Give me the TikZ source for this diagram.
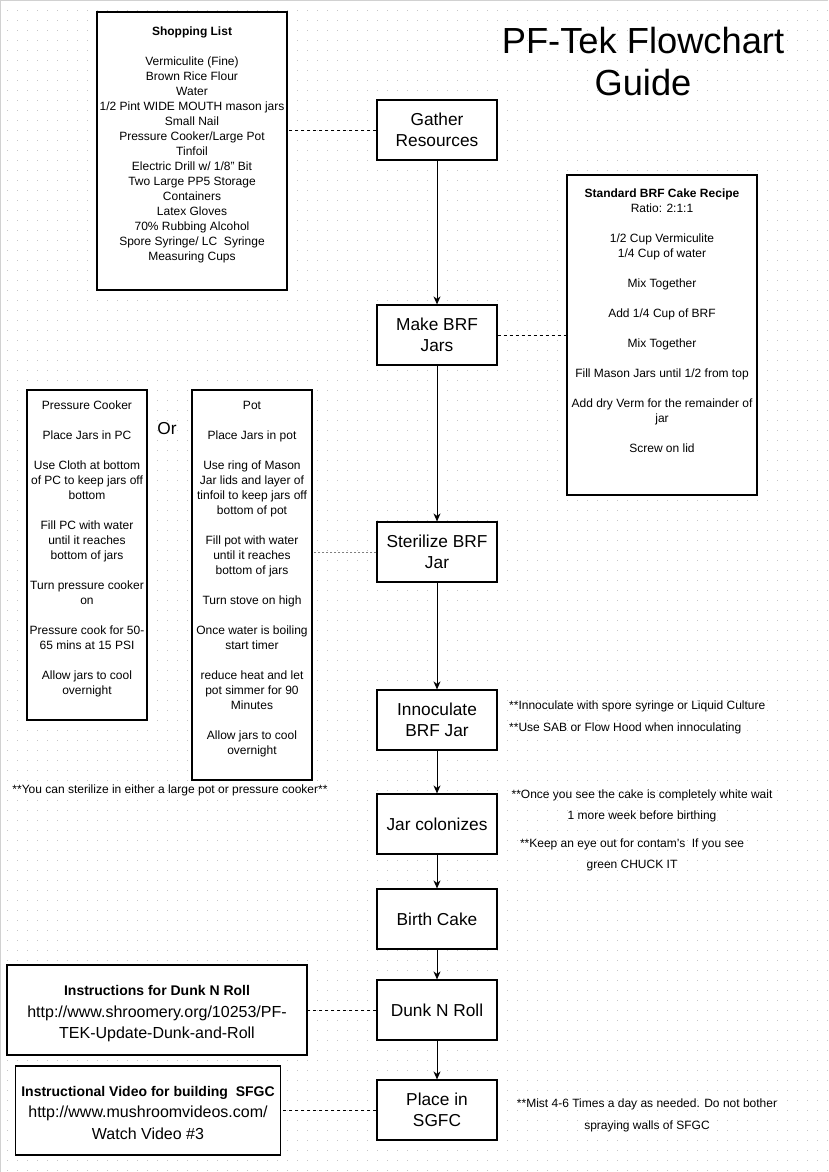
\documentclass[tikz,border=0pt]{standalone}
\usepackage{fontspec}
\setmainfont{Liberation Sans}
\usetikzlibrary{arrows.meta, positioning}

\definecolor{gridgray}{gray}{0.78}
\definecolor{framegray}{gray}{0.82}

\tikzset{
  stepbox/.style={draw, line width=1.2pt, fill=white, minimum width=120pt, minimum height=60pt,
    align=center, inner sep=2pt, font=\fontsize{17.3}{21}\selectfont},
  sidebox/.style={draw, line width=1.2pt, fill=white, inner sep=0pt},
  sidetext/.style={align=center, inner sep=0pt, anchor=north, font=\fontsize{12}{15}\selectfont},
  infotext/.style={align=center, inner sep=0pt, font=\fontsize{16}{21.5}\selectfont},
  notetext/.style={inner sep=0pt, font=\fontsize{12}{21.5}\selectfont},
  dashlink/.style={dashed, line width=1pt},
  flowarrow/.style={-{Stealth[length=8pt, width=7pt, inset=2.5pt]}, line width=1pt},
}

\begin{document}
\begin{tikzpicture}[x=1pt, y=-1pt, node distance=100pt, on grid]
  \useasboundingbox (0,0) rectangle (828,1172);

  % dotted background grid
  \foreach \gy in {10.5,20.5,...,1170.5}
    \draw[gridgray, line width=1pt, dash pattern=on 1pt off 9pt] (7,\gy) -- (828,\gy);
  \draw[framegray, line width=1pt] (0.5,1172) -- (0.5,0.5) -- (828,0.5);

  % title
  \node[align=center, font=\fontsize{36.3}{42}\selectfont] (title) at (643,62) {PF-Tek Flowchart\\Guide};

  % main steps
  \node[stepbox] (gather) at (437,130) {Gather\\Resources};
  \node[stepbox] (makejars) [below=205pt of gather] {Make BRF\\Jars};
  \node[stepbox] (sterilize) [below=217pt of makejars] {Sterilize BRF\\Jar};
  \node[stepbox] (innoculate) [below=168pt of sterilize] {Innoculate\\BRF Jar};
  \node[stepbox] (colonize) [below=104pt of innoculate] {Jar colonizes};
  \node[stepbox] (birth) [below=95pt of colonize] {Birth Cake};
  \node[stepbox] (dunk) [below=91pt of birth] {Dunk N Roll};
  \node[stepbox] (sgfc) [below=100pt of dunk] {Place in\\SGFC};

  \path[flowarrow] (gather) edge (makejars)
                   (makejars) edge (sterilize)
                   (sterilize) edge (innoculate)
                   (innoculate) edge (colonize)
                   (colonize) edge (birth)
                   (birth) edge (dunk)
                   (dunk) edge (sgfc);

  % shopping list
  \node[sidebox, minimum width=190pt, minimum height=278pt] (shoplist) at (192,151) {};
  \node[sidetext] (shoptext) at ([yshift=-15.5pt]shoplist.north) {{\bfseries Shopping List}\\[15pt]
    Vermiculite (Fine)\\Brown Rice Flour\\Water\\1/2 Pint WIDE MOUTH mason jars\\Small Nail\\
    Pressure Cooker/Large Pot\\Tinfoil\\Electric Drill w/ 1/8" Bit\\Two Large PP5 Storage\\
    Containers\\Latex Gloves\\70\% Rubbing Alcohol\\Spore Syringe/ LC~~Syringe\\Measuring Cups};

  % recipe
  \node[sidebox, minimum width=190pt, minimum height=320pt] (recipe) at (662,335) {};
  \node[sidetext] (recipetext) at ([yshift=-14.5pt]recipe.north) {{\bfseries Standard BRF Cake Recipe}\\
    Ratio: 2:1:1\\[15pt]1/2 Cup Vermiculite\\1/4 Cup of water\\[15pt]Mix Together\\[15pt]
    Add 1/4 Cup of BRF\\[15pt]Mix Together\\[15pt]Fill Mason Jars until 1/2 from top\\[15pt]
    Add dry Verm for the remainder of\\jar\\[15pt]Screw on lid};

  % sterilizing options
  \node[sidebox, minimum width=120pt, minimum height=330pt] (pcbox) at (87,555) {};
  \node[sidetext] (pctext) at ([yshift=-11.5pt]pcbox.north) {Pressure Cooker\\[15pt]
    Place Jars in PC\\[15pt]Use Cloth at bottom\\of PC to keep jars off\\bottom\\[15pt]
    Fill PC with water\\until it reaches\\bottom of jars\\[15pt]Turn pressure cooker\\on\\[15pt]
    Pressure cook for 50-\\65 mins at 15 PSI\\[15pt]Allow jars to cool\\overnight};
  \node[font=\fontsize{17.3}{21}\selectfont] (ortext) at (167,429) {Or};
  \node[sidebox, minimum width=120pt, minimum height=390pt] (potbox) at (252,585) {};
  \node[sidetext] (pottext) at ([yshift=-11.5pt]potbox.north) {Pot\\[15pt]
    Place Jars in pot\\[15pt]Use ring of Mason\\Jar lids and layer of\\tinfoil to keep jars off\\
    bottom of pot\\[15pt]Fill pot with water\\until it reaches\\bottom of jars\\[15pt]
    Turn stove on high\\[15pt]Once water is boiling\\start timer\\[15pt]reduce heat and let\\
    pot simmer for 90\\Minutes\\[15pt]Allow jars to cool\\overnight};
  \node[notetext] (sterilnote) at (170,790) {**You can sterilize in either a large pot or pressure cooker**};

  % links
  \node[sidebox, minimum width=300pt, minimum height=90pt] (dunkinfo) at (157,1010) {};
  \node[infotext] (dunktext) at ([yshift=-4pt]dunkinfo.center)
    {{\fontsize{14}{21.5}\selectfont\bfseries Instructions for Dunk N Roll}\\
     http://www.shroomery.org/10253/PF-\\TEK-Update-Dunk-and-Roll};
  \node[sidebox, minimum width=265pt, minimum height=89pt] (videoinfo) at (148,1110.5) {};
  \node[infotext] (videotext) at ([yshift=-2pt]videoinfo.center)
    {{\fontsize{14}{21.5}\selectfont\bfseries Instructional Video for building~~SFGC}\\
     http://www.mushroomvideos.com/\\Watch Video \#3};

  % side notes
  \node[notetext, anchor=west, align=left, font=\fontsize{12}{22}\selectfont] (innocnote) at (509,717)
    {**Innoculate with spore syringe or Liquid Culture\\\relax**Use SAB or Flow Hood when innoculating};
  \node[notetext, align=center, font=\fontsize{12}{21.5}\selectfont] (colonnote) at (642,806)
    {**Once you see the cake is completely white wait\\1 more week before birthing};
  \node[notetext, align=center, font=\fontsize{12}{21.5}\selectfont] (contamnote) at (632,855)
    {**Keep an eye out for contam's~~If you see\\green CHUCK IT};
  \node[notetext, align=center, font=\fontsize{12}{22}\selectfont] (mistnote) at (647,1115)
    {**Mist 4-6 Times a day as needed. Do not bother\\spraying walls of SFGC};

  % side connectors
  \draw[dashlink] (gather.west) -- (gather.west -| shoplist.east);
  \draw[dashlink] (makejars.east) -- (makejars.east -| recipe.west);
  \draw[gray, line width=1pt, dash pattern=on 2pt off 2pt] (sterilize.west) -- (sterilize.west -| potbox.east);
  \draw[dashlink] (dunk.west) -- (dunk.west -| dunkinfo.east);
  \draw[dashlink] (sgfc.west) -- (sgfc.west -| videoinfo.east);
\end{tikzpicture}
\end{document}
